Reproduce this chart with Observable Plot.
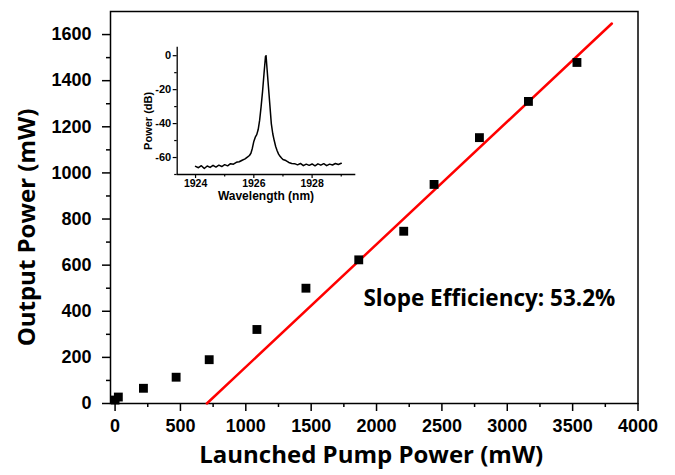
<!DOCTYPE html>
<html><head><meta charset="utf-8">
<script src="https://cdn.jsdelivr.net/npm/d3@7"></script>
<script src="https://cdn.jsdelivr.net/npm/@observablehq/plot@0.6"></script>
<style>
body{margin:0;background:#fff}
#wrap{position:relative;width:675px;height:475px}
#inset{position:absolute;left:120px;top:30px}
</style>
</head><body><div id="wrap"><div id="main"></div><div id="inset"></div></div>
<script>
// Main chart data
const pumpPower   = [0, 25, 217, 467, 720, 1085, 1460, 1864, 2208, 2440, 2787, 3162, 3533];
const outputPower = [15, 28, 66, 114, 190, 321, 500, 623, 747, 950, 1153, 1310, 1479];
const fitPump   = [702, 3800];
const fitOutput = [0, 1648];
const xTicks = [0, 500, 1000, 1500, 2000, 2500, 3000, 3500, 4000];
const xMinor = [250, 750, 1250, 1750, 2250, 2750, 3250, 3750];
const yTicks = [0, 200, 400, 600, 800, 1000, 1200, 1400, 1600];
const yMinor = [100, 300, 500, 700, 900, 1100, 1300, 1500];
const xTitle = "Launched Pump Power (mW)";
const yTitle = "Output Power (mW)";
const annotation = "Slope Efficiency: 53.2%";

// Inset spectrum data
const specWl = [1924.0,1924.1,1924.2,1924.3,1924.4,1924.5,1924.6,1924.7,1924.8,1924.9,
  1925.0,1925.1,1925.2,1925.3,1925.4,1925.5,1925.6,1925.7,1925.8,1925.85,1925.9,1925.95,
  1926.0,1926.05,1926.1,1926.15,1926.2,1926.25,1926.3,1926.35,1926.4,1926.42,1926.45,1926.5,
  1926.55,1926.6,1926.65,1926.7,1926.75,1926.8,1926.85,1926.9,1926.95,1927.0,1927.1,1927.2,
  1927.3,1927.4,1927.5,1927.6,1927.7,1927.8,1927.9,1928.0,1928.1,1928.2,1928.3,1928.4,1928.5,
  1928.6,1928.7,1928.8,1928.9,1929.0];
const specDb = [-65.2,-66.0,-64.8,-66.5,-65.0,-65.8,-64.6,-65.6,-64.5,-65.3,
  -64.2,-64.9,-63.6,-63.9,-62.8,-62.5,-61.6,-60.8,-59.5,-58.8,-57.5,-54.5,
  -50.5,-48.0,-46.5,-43.5,-38.0,-30.0,-21.0,-10.5,-0.5,0,-7.0,-18.0,
  -29.0,-40.0,-46.0,-50.0,-53.5,-56.0,-58.0,-59.3,-60.3,-61.2,-61.8,-62.9,
  -63.5,-63.6,-64.3,-63.5,-64.8,-63.9,-64.6,-63.8,-64.9,-63.7,-64.5,-63.6,-64.8,
  -63.9,-64.4,-63.5,-64.1,-63.4];
const insetXTicks = [1924, 1926, 1928];
const insetXMinor = [1925, 1927, 1929];
const insetYTicks = [0, -20, -40, -60];
const insetYMinor = [-10, -30, -50, -70];
const insetXTitle = "Wavelength (nm)";
const insetYTitle = "Power (dB)";

const points = pumpPower.map((p, i) => ({p, o: outputPower[i]}));
const fit = fitPump.map((p, i) => ({p, o: fitOutput[i]}));
const spec = specWl.map((w, i) => ({w, d: specDb[i]}));

const tickFont = "Liberation Sans, Arial, sans-serif";
const titleFont = "Open Sans, Noto Sans, sans-serif";
const fmt = d => String(d);

const main = Plot.plot({
  width: 675, height: 475,
  marginLeft: 110, marginRight: 37.5, marginTop: 11, marginBottom: 72,
  style: {fontFamily: tickFont, fontWeight: "bold", background: "transparent", color: "black"},
  x: {domain: [-35, 4000]},
  y: {domain: [0, 1700]},
  marks: [
    Plot.frame({stroke: "black", strokeWidth: 1.5}),
    Plot.axisX(xTicks, {tickSize: 8, tickPadding: 8, fontSize: 18, fontWeight: "bold", tickFormat: fmt, strokeWidth: 1.5, label: null}),
    Plot.axisX(xMinor, {tickSize: 4, tickFormat: () => "", strokeWidth: 1.5, label: null}),
    Plot.axisY(yTicks, {tickSize: 8, tickPadding: 11, fontSize: 18, fontWeight: "bold", tickFormat: fmt, strokeWidth: 1.5, label: null}),
    Plot.axisY(yMinor, {tickSize: 4, tickFormat: () => "", strokeWidth: 1.5, label: null}),
    Plot.line(fit, {x: "p", y: "o", stroke: "#ff0000", strokeWidth: 2.5}),
    Plot.dot(points, {x: "p", y: "o", symbol: "square", r: 5, fill: "black", stroke: "none"}),
    Plot.text([annotation], {x: 1900, y: 455, textAnchor: "start", fontSize: 22.5, fontWeight: "bold", fontFamily: titleFont, fill: "black"}),
    Plot.text([xTitle], {frameAnchor: "bottom", dy: 59, dx: -3, textAnchor: "middle", fontSize: 24, fontWeight: "bold", fontFamily: titleFont, fill: "black"}),
    Plot.text([yTitle], {frameAnchor: "left", dx: -83, dy: 20, textAnchor: "middle", rotate: -90, fontSize: 24, fontWeight: "bold", fontFamily: titleFont, fill: "black"})
  ]
});
document.getElementById("main").append(main);

const ixd = [1923.37, 1929.5], iyd = [-70, 5];
const inset = Plot.plot({
  width: 250, height: 180,
  marginLeft: 56.7, marginRight: 14.7, marginTop: 16.7, marginBottom: 36,
  style: {fontFamily: tickFont, fontWeight: "bold", background: "transparent", color: "black"},
  x: {domain: ixd},
  y: {domain: iyd},
  marks: [
    Plot.ruleX([ixd[0]], {stroke: "black", strokeWidth: 1.3}),
    Plot.ruleY([iyd[0]], {stroke: "black", strokeWidth: 1.3}),
    Plot.axisX(insetXTicks, {tickSize: 4, tickPadding: 1, fontSize: 10.5, fontWeight: "bold", tickFormat: fmt, strokeWidth: 1.2, label: null}),
    Plot.axisX(insetXMinor, {tickSize: 2.5, tickFormat: () => "", strokeWidth: 1.2, label: null}),
    Plot.axisY(insetYTicks, {tickSize: 4, tickPadding: 2, fontSize: 11, fontWeight: "bold", tickFormat: fmt, strokeWidth: 1.2, label: null}),
    Plot.axisY(insetYMinor, {tickSize: 2.5, tickFormat: () => "", strokeWidth: 1.2, label: null}),
    Plot.line(spec, {x: "w", y: "d", stroke: "black", strokeWidth: 1.5}),
    Plot.text([insetXTitle], {frameAnchor: "bottom", dy: 25, dx: -0.5, textAnchor: "middle", fontSize: 12, fontWeight: "bold", fill: "black"}),
    Plot.text([insetYTitle], {frameAnchor: "left", dx: -28.7, dy: 10, textAnchor: "middle", rotate: -90, fontSize: 11, fontWeight: "bold", fill: "black"})
  ]
});
document.getElementById("inset").append(inset);
</script>
</body></html>
